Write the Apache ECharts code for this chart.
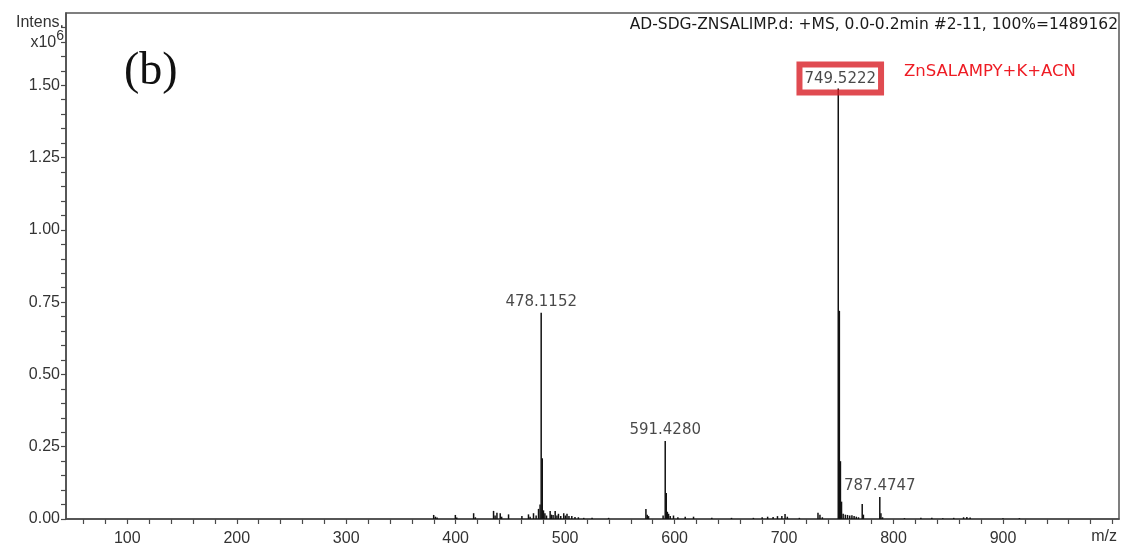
<!DOCTYPE html>
<html>
<head>
<meta charset="utf-8">
<script src="https://cdn.jsdelivr.net/npm/echarts@6/dist/echarts.min.js"></script>
<style>
  html, body { margin: 0; padding: 0; background: #fff; }
  #chart { width: 1126px; height: 548px; }
</style>
</head>
<body>
<div id="chart"></div>
<script>
// Mass spectrum (+MS, 0.0-0.2 min), intensities in units of 10^6 counts.
// Annotated peaks: [m/z, intensity]
const labelledPeaks = [
  [478.1152, 0.713],
  [591.4280, 0.270],
  [749.5222, 1.489],
  [787.4747, 0.076]
];

// Isotope and minor peaks: [m/z, intensity]
const minorPeaks = [
  [379.9, 0.014], [381.5, 0.008], [383.0, 0.005], [399.7, 0.014], [401.0, 0.005],
  [416.4, 0.020], [418.0, 0.006], [434.6, 0.028], [436.0, 0.012], [437.7, 0.022],
  [440.7, 0.020], [442.0, 0.008], [448.3, 0.016], [460.5, 0.010], [466.5, 0.016],
  [468.0, 0.008], [471.1, 0.020], [473.5, 0.012], [475.7, 0.035], [477.1, 0.050],
  [479.12, 0.210], [480.2, 0.030], [481.5, 0.020], [483.0, 0.012], [486.3, 0.028],
  [487.5, 0.015], [489.0, 0.014], [490.9, 0.028], [492.5, 0.012], [493.9, 0.018],
  [496.0, 0.010], [498.7, 0.020], [500.2, 0.012], [501.7, 0.018], [503.5, 0.010],
  [506.1, 0.010], [509.0, 0.007], [512.1, 0.006], [517.0, 0.004], [524.6, 0.004],
  [539.7, 0.004],
  [573.8, 0.035], [575.0, 0.015], [576.2, 0.010], [589.5, 0.012], [592.4, 0.090],
  [593.4, 0.025], [594.5, 0.018], [596.0, 0.010], [599.0, 0.012], [603.0, 0.006],
  [609.7, 0.008], [617.3, 0.008], [634.0, 0.004], [652.0, 0.004], [672.0, 0.004],
  [680.0, 0.006], [685.0, 0.008], [690.0, 0.007], [694.0, 0.010], [698.0, 0.010],
  [700.9, 0.017], [703.0, 0.008], [714.0, 0.004], [731.0, 0.022], [732.8, 0.015],
  [735.0, 0.006],
  [750.52, 0.720], [751.5, 0.200], [752.5, 0.060], [754.0, 0.018], [756.0, 0.015],
  [758.0, 0.014], [760.0, 0.012], [762.0, 0.013], [764.0, 0.010], [766.0, 0.008],
  [768.0, 0.006], [771.4, 0.052], [772.5, 0.015], [788.5, 0.020], [790.0, 0.006],
  [810.0, 0.003], [825.0, 0.004], [835.0, 0.004], [845.0, 0.003], [855.0, 0.004],
  [864.0, 0.006], [867.0, 0.007], [870.0, 0.005], [900.0, 0.003], [915.0, 0.003]
];

// Axis ticks and labels
const xLabelValues = [100, 200, 300, 400, 500, 600, 700, 800, 900];
const xTickValues = [60, 80, 100, 120, 140, 160, 180, 200, 220, 240, 260, 280, 300,
  320, 340, 360, 380, 400, 420, 440, 460, 480, 500, 520, 540, 560, 580, 600, 620, 640,
  660, 680, 700, 720, 740, 760, 780, 800, 820, 840, 860, 880, 900, 920, 940, 960, 980, 1000];
const yLabelValues = [0, 0.25, 0.5, 0.75, 1.0, 1.25, 1.5];
const yTickValues = [0, 0.05, 0.1, 0.15, 0.2, 0.25, 0.3, 0.35, 0.4, 0.45, 0.5, 0.55, 0.6,
  0.65, 0.7, 0.75, 0.8, 0.85, 0.9, 0.95, 1.0, 1.05, 1.1, 1.15, 1.2, 1.25, 1.3, 1.35, 1.4,
  1.45, 1.5, 1.55, 1.6, 1.65, 1.7];

const headerText = 'AD-SDG-ZNSALIMP.d: +MS, 0.0-0.2min #2-11, 100%=1489162';
const panelTag = '(b)';
const assignment = 'ZnSALAMPY+K+ACN';

const sticks = minorPeaks.concat(labelledPeaks);

const axisColor = '#4a4a4a';
const labelFont = { fontFamily: 'Liberation Sans', fontSize: 16, color: '#333' };

const chart = echarts.init(document.getElementById('chart'), null, { renderer: 'canvas' });

chart.setOption({
  animation: false,
  backgroundColor: '#fff',
  grid: {
    left: 66, right: 7, top: 13, bottom: 29,
    show: true, borderColor: '#555', borderWidth: 1.5, backgroundColor: 'transparent'
  },
  xAxis: {
    type: 'value', min: 44, max: 1006,
    axisLine: { show: true, lineStyle: { color: axisColor, width: 1.5 } },
    axisTick: { show: true, length: 5, customValues: xTickValues, lineStyle: { color: axisColor, width: 1.2 } },
    axisLabel: Object.assign({ margin: 12, customValues: xLabelValues, formatter: v => String(v) }, labelFont),
    splitLine: { show: false }
  },
  yAxis: {
    type: 'value', min: 0, max: 1.75,
    axisLine: { show: true, lineStyle: { color: axisColor, width: 1.5 } },
    axisTick: { show: true, length: 5, customValues: yTickValues, lineStyle: { color: axisColor, width: 1.2 } },
    axisLabel: Object.assign({ margin: 6, customValues: yLabelValues, formatter: v => v.toFixed(2) }, labelFont),
    splitLine: { show: false }
  },
  series: [
    {
      type: 'custom',
      name: 'spectrum',
      data: sticks,
      clip: true,
      renderItem: function (params, api) {
        const mz = api.value(0);
        const h = api.value(1);
        const p0 = api.coord([mz, 0]);
        const p1 = api.coord([mz, h]);
        return {
          type: 'line',
          shape: { x1: p0[0], y1: p0[1], x2: p1[0], y2: p1[1] },
          style: { stroke: '#111', lineWidth: 1.5 }
        };
      }
    },
    {
      type: 'scatter',
      name: 'peak labels',
      symbolSize: 0,
      silent: true,
      data: labelledPeaks.map(function (p) {
        const item = { value: p };
        if (p[0] === 749.5222) {
          item.label = {
            position: 'top', distance: 0, offset: [2, 4],
            borderColor: '#d81e26', borderWidth: 3, padding: [7, 5, 6, 5],
            backgroundColor: 'transparent'
          };
        }
        return item;
      }),
      label: {
        show: true, position: 'top', distance: 3,
        fontFamily: 'DejaVu Sans', fontSize: 15, color: '#1a1a1a',
        formatter: function (p) { return p.value[0].toFixed(4); }
      }
    }
  ],
  graphic: [
    {
      type: 'text', right: 8, top: 17,
      style: { text: headerText, font: '15.5px "DejaVu Sans"', fill: '#1a1a1a' }
    },
    {
      type: 'text', left: 904, top: 63,
      style: { text: assignment, font: '16.5px "DejaVu Sans"', fill: '#ee1c24' }
    },
    {
      type: 'text', left: 124, top: 49,
      style: { text: panelTag, font: '46px "Liberation Serif"', fill: '#111' }
    },
    {
      type: 'text', x: 64, y: 23,
      style: { text: 'Intens.', font: '16px "Liberation Sans"', fill: '#333', align: 'right', verticalAlign: 'middle' }
    },
    {
      type: 'text', x: 64, y: 40,
      style: {
        text: '{a|x10}{b|6}', align: 'right', verticalAlign: 'middle',
        rich: {
          a: { font: '16px "Liberation Sans"', fill: '#333', color: '#333', verticalAlign: 'bottom' },
          b: { font: '14px "Liberation Sans"', fill: '#333', color: '#333', verticalAlign: 'top', padding: [0, 0, 8, 0] }
        }
      }
    },
    {
      type: 'text', x: 1117, y: 537,
      style: { text: 'm/z', font: '16px "Liberation Sans"', fill: '#333', align: 'right', verticalAlign: 'middle' }
    }
  ]
});
</script>
</body>
</html>
